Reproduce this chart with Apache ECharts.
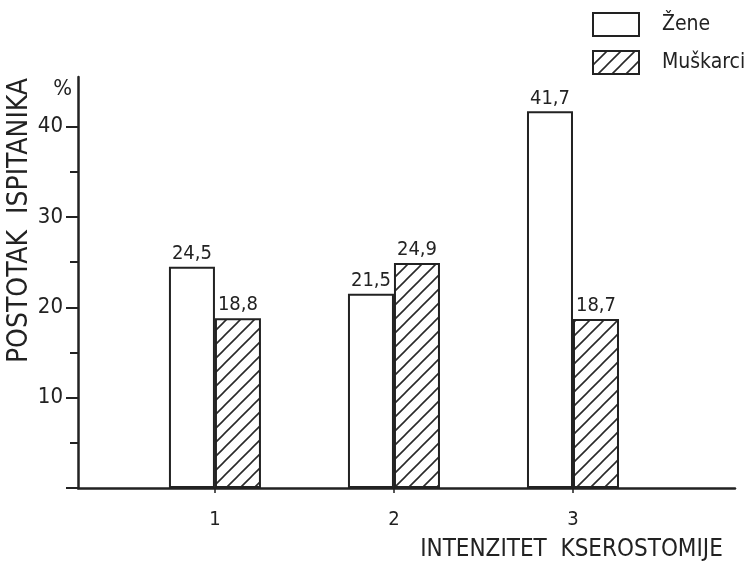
<!DOCTYPE html>
<html>
<head>
<meta charset="utf-8">
<script src="https://cdn.jsdelivr.net/npm/echarts@6/dist/echarts.min.js"></script>
<style>html,body{margin:0;padding:0;background:#fff;}#c{width:752px;height:564px;}</style>
</head>
<body>
<div id="c"></div>
<script>
var categories = [1, 2, 3];
var categoryLabels = ['1', '2', '3'];
var zene = [24.5, 21.5, 41.7];
var muskarci = [18.8, 24.9, 18.7];
var yLabelTicks = [10, 20, 30, 40];
var yMajorTicks = [0, 10, 20, 30, 40];
var yMinorTicks = [5, 15, 25, 35];
var seriesNames = ['Žene', 'Muškarci'];

var FONT = "'DejaVu Sans Condensed', 'Liberation Sans Narrow', 'DejaVu Sans', sans-serif";
var INK = '#222';

function hatch() {
  var s = 14, c = document.createElement('canvas');
  c.width = s; c.height = s;
  var g = c.getContext('2d');
  g.fillStyle = '#fff'; g.fillRect(0, 0, s, s);
  g.strokeStyle = '#2a2a2a'; g.lineWidth = 1.6;
  g.beginPath();
  g.moveTo(-2, s + 2); g.lineTo(s + 2, -2);
  g.moveTo(-2, 2); g.lineTo(2, -2);
  g.moveTo(s - 2, s + 2); g.lineTo(s + 2, s - 2);
  g.stroke();
  return { image: c, repeat: 'repeat' };
}

function pairs(vals) { return categories.map(function (c, i) { return [c, vals[i]]; }); }
function fmt(p) { return String(p.value[1]).replace('.', ','); }

var chart = echarts.init(document.getElementById('c'), null, { renderer: 'canvas' });
var labelStyle = { show: true, position: 'top', distance: 3, formatter: fmt, fontFamily: FONT, fontSize: 20, color: INK };
chart.setOption({
  backgroundColor: '#fff',
  animation: false,
  legend: {
    orient: 'vertical', left: 592, top: 12, padding: 0,
    itemWidth: 46, itemHeight: 23, itemGap: 13, icon: 'rect',
    itemStyle: { borderColor: INK, borderWidth: 2 },
    textStyle: { fontFamily: FONT, fontSize: 21, color: INK, padding: [0, 0, 0, 18] },
    data: seriesNames
  },
  grid: { left: 78, right: 17, top: 77, bottom: 76, containLabel: false, outerBoundsMode: 'none' },
  xAxis: {
    type: 'value', min: 0.235, max: 3.905,
    splitLine: { show: false },
    axisLine: { show: true, lineStyle: { color: INK, width: 2.5 } },
    axisTick: { show: true, customValues: categories, length: 5, lineStyle: { color: INK, width: 1.5 } },
    axisLabel: { customValues: categories, formatter: function (v) { return categoryLabels[categories.indexOf(v)] || ''; }, margin: 22, fontFamily: FONT, fontSize: 20, color: INK },
    name: 'INTENZITET  KSEROSTOMIJE', nameLocation: 'middle', nameGap: 50,
    nameTextStyle: { fontFamily: FONT, fontSize: 24, color: INK, padding: [0, 0, 0, 330] }
  },
  yAxis: [{
    type: 'value', min: 0, max: 45.5, interval: 10,
    splitLine: { show: false },
    axisLine: { show: true, lineStyle: { color: INK, width: 2.5 } },
    axisTick: { show: true, customValues: yMajorTicks, length: 12, lineStyle: { color: INK, width: 2 } },
    axisLabel: { customValues: yLabelTicks, margin: 15, fontFamily: FONT, fontSize: 22, color: INK },
    name: '%', nameLocation: 'end', nameGap: -12,
    nameTextStyle: { fontFamily: FONT, fontSize: 22, color: INK, align: 'right', verticalAlign: 'middle', padding: [0, 6, 0, 0] }
  }, {
    type: 'value', min: 0, max: 45.5, position: 'left',
    splitLine: { show: false },
    axisLine: { show: false },
    axisTick: { show: true, customValues: yMinorTicks, length: 8, lineStyle: { color: INK, width: 2 } },
    axisLabel: { show: false },
    name: 'POSTOTAK  ISPITANIKA', nameLocation: 'middle', nameGap: 44, nameRotate: 90,
    nameTextStyle: { fontFamily: FONT, fontSize: 28, color: INK, padding: [0, 0, 0, 124] }
  }],
  series: [{
    name: seriesNames[0], type: 'bar', data: pairs(zene), barWidth: 46, barGap: '0%',
    itemStyle: { color: '#fff', borderColor: INK, borderWidth: 2 },
    label: labelStyle
  }, {
    name: seriesNames[1], type: 'bar', data: pairs(muskarci), barWidth: 46, barGap: '0%',
    itemStyle: { color: hatch(), borderColor: INK, borderWidth: 2 },
    label: labelStyle
  }]
});
</script>
</body>
</html>
